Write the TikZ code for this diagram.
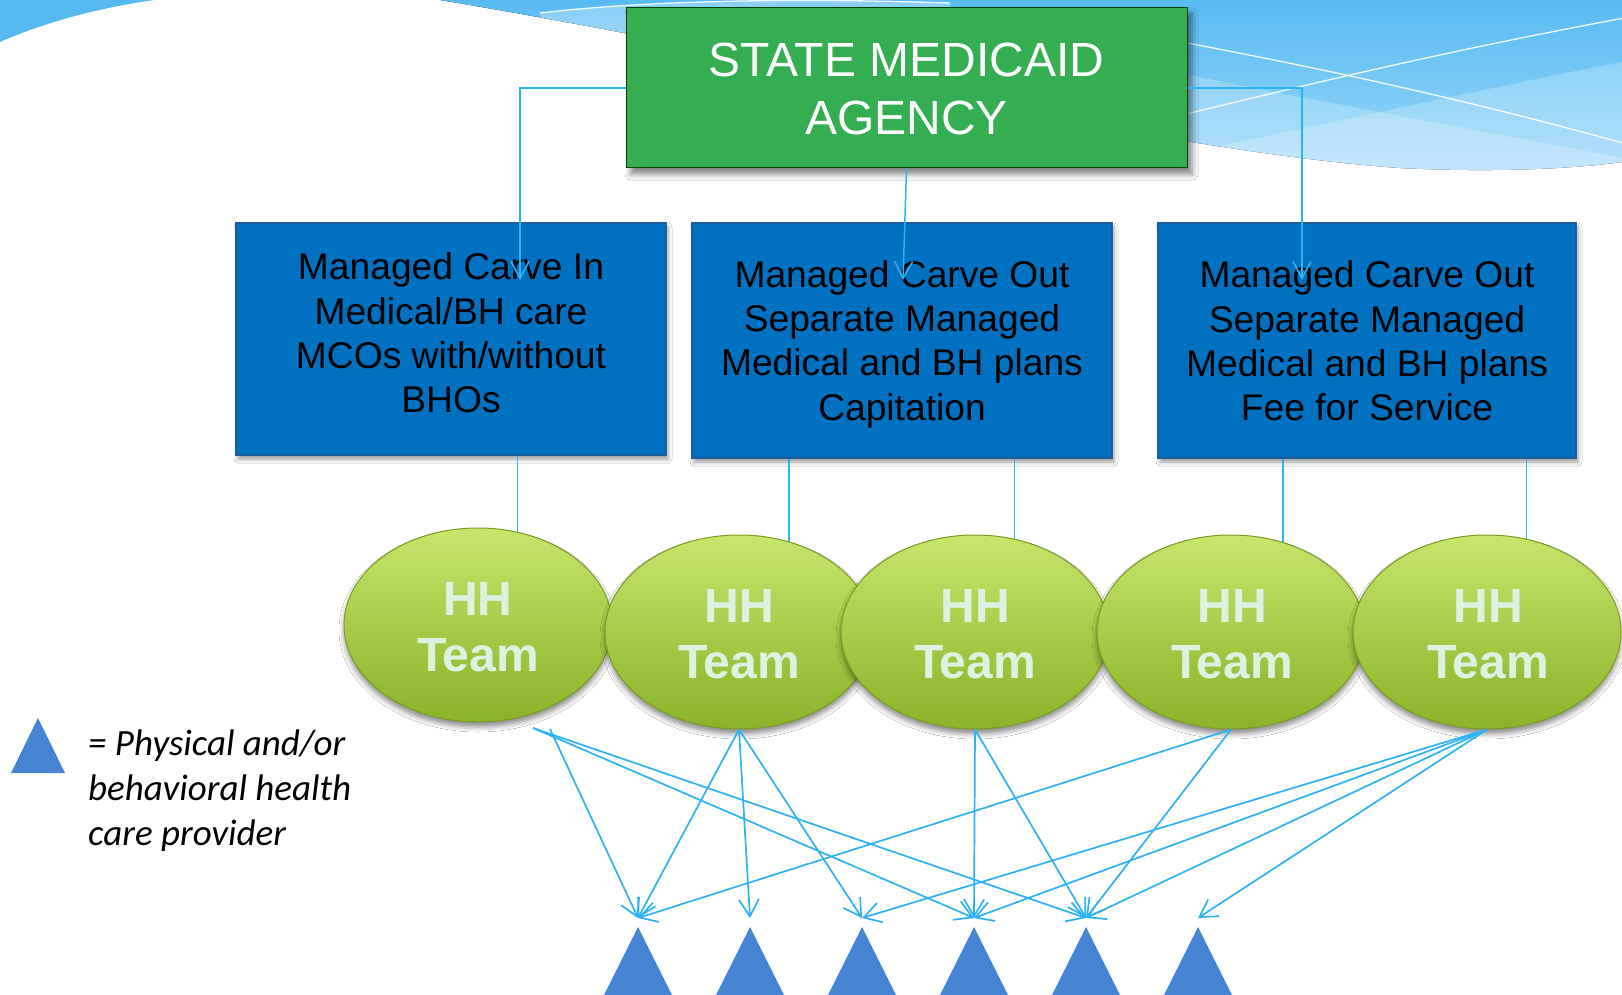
\documentclass[tikz,border=0pt]{standalone}
\usepackage{fontspec}
\setmainfont{Liberation Sans}
\newfontfamily\calib{Carlito}
\usetikzlibrary{arrows.meta,shadows.blur,shapes.geometric}
\definecolor{skyA}{HTML}{56BAF1}
\definecolor{skyC}{HTML}{9ED9F9}
\definecolor{conn}{HTML}{2EB2F3}
\definecolor{mgreen}{HTML}{34AE51}
\definecolor{mblue}{HTML}{0070C0}
\definecolor{mblueD}{HTML}{1A5C9A}
\definecolor{tri}{HTML}{4884D4}
\definecolor{elltop}{HTML}{C6E66C}
\definecolor{ellbot}{HTML}{8AB228}
\definecolor{ellline}{HTML}{7C9C22}
\definecolor{elltext}{HTML}{DDF3E2}
\begin{document}
\begin{tikzpicture}[x=1pt,y=-1pt,
  agency/.style={draw=green!25!black, line width=1pt, fill=mgreen, minimum width=561pt, minimum height=160pt, inner sep=0pt,
     blur shadow={shadow xshift=5pt, shadow yshift=-6pt, shadow blur radius=6pt, shadow opacity=50}},
  plan/.style={draw=mblueD, line width=1.5pt, fill=mblue, inner sep=0pt,
     blur shadow={shadow xshift=2pt, shadow yshift=-4pt, shadow blur radius=4pt, shadow opacity=40}},
  plantext/.style={align=center, inner sep=0pt, text=black, font=\fontsize{37.2pt}{44.3pt}\selectfont},
  hh/.style={ellipse, minimum width=268pt, minimum height=194pt, inner sep=0pt, top color=elltop, bottom color=ellbot,
     draw=ellline, line width=1pt, blur shadow={shadow xshift=0pt, shadow yshift=-5pt, shadow blur radius=5pt, shadow opacity=45}},
  hhtext/.style={align=center, inner sep=0pt, text=elltext, font=\fontsize{48pt}{56.5pt}\selectfont\bfseries},
  gline/.style={draw=conn, line width=1.5pt, -{Straight Barb[length=17pt,width=18pt]}},
  link/.style={draw=conn, line width=1.8pt},
  arr/.style={draw=conn, line width=1.7pt, -{Straight Barb[length=17pt,width=20pt]}},
  wline/.style={draw=white, line width=1.3pt, opacity=.9}
]
\useasboundingbox (0,0) rectangle (1622,995);
\fill[white] (0,0) rectangle (1622,995);

% background waves
\fill[skyA] (0,-2) -- (0,42) .. controls (50,20) and (110,5) .. (170,-2) -- cycle;
\begin{scope}
  \clip (440,-5) -- (440,0) .. controls (800,60) and (1150,150) .. (1400,168) .. controls (1500,173) and (1580,168) .. (1622,162) -- (1622,-5) -- cycle;
  \fill[top color=skyA, bottom color=skyC] (400,-5) rectangle (1622,175);
  \fill[white, opacity=.22] (1000,35) .. controls (1200,80) and (1450,125) .. (1622,158) -- (1622,200) -- (1000,200) -- cycle;
  \fill[white, opacity=.22] (1150,160) .. controls (1350,120) and (1500,85) .. (1622,62) -- (1622,200) -- (1150,200) -- cycle;
  \fill[white, opacity=.3] (540,13) .. controls (650,0) and (800,-2) .. (950,3) -- (950,200) -- (540,200) -- cycle;
\end{scope}
\draw[wline] (1150,36) .. controls (1300,64) and (1450,95) .. (1630,145);
\draw[wline] (1150,123) .. controls (1300,86) and (1450,50) .. (1630,17);
\draw[wline] (540,13) .. controls (650,0) and (800,-2) .. (950,3);

% plan boxes
\node[plan, minimum width=430pt, minimum height=232pt] (b1) at (451,339) {};
\node[plan, minimum width=420pt, minimum height=235pt] (b2) at (902,340.5) {};
\node[plan, minimum width=418pt, minimum height=235pt] (b3) at (1367,340.5) {};
\node[plantext] (b1t) at (451,333) {Managed Carve In\\Medical/BH care\\MCOs with/without\\BHOs};
\node[plantext] (b2t) at (902,344) {Managed Carve Out\\Separate Managed\\Medical and BH plans\\Capitation};
\node[plantext] (b3t) at (1367,341) {Managed Carve Out\\Separate Managed\\Medical and BH plans\\Fee for Service};

% agency
\coordinate (b1in) at (520,280);
\coordinate (b2in) at (903,280);
\coordinate (b3in) at (1302,280);
\node[agency] (g) at (906.5,88) {};
\draw[gline] (g.west) -| (b1in);
\draw[gline] (g.south) -- (b2in);
\draw[gline] (g.east) -| (b3in);
\node[align=center, inner sep=0pt, text=white, font=\fontsize{48pt}{58pt}\selectfont] (gt) at (906.5,89) {STATE MEDICAID\\AGENCY};

% teams
\node[hh] (e1) at (478,625) {};
\node[hh] (e2) at (739,632) {};
\node[hh] (e3) at (975,632) {};
\node[hh] (e4) at (1231,632) {};
\node[hh] (e5) at (1487,632) {};
\draw[link] (b1.south -| e1.67) -- (e1.67);
\draw[link] (b2.south -| e2.61) -- (e2.61);
\draw[link] (b2.south -| e3.67) -- (e3.67);
\draw[link] (b3.south -| e4.60) -- (e4.60);
\draw[link] (b3.south -| e5.67) -- (e5.67);
\node[hhtext] (e1t) at (478,627) {HH\\Team};
\node[hhtext] (e2t) at (739,634) {HH\\Team};
\node[hhtext] (e3t) at (975,634) {HH\\Team};
\node[hhtext] (e4t) at (1232,634) {HH\\Team};
\node[hhtext] (e5t) at (1488,634) {HH\\Team};

% providers
\coordinate (s1a) at (533,728);
\coordinate (s1b) at (550,729);
\coordinate (p1) at (638,918);
\coordinate (p2) at (750,918);
\coordinate (p3) at (862,918);
\coordinate (p4) at (974,918);
\coordinate (p5) at (1086,918);
\coordinate (p6) at (1198,918);
\foreach \p in {p1,p2,p3,p4,p5,p6}
  \fill[tri] (\p) ++(0,9) -- ++(35,70) -- ++(-70,0) -- cycle;

\draw[arr] (s1a) -- (p4);
\draw[arr] (s1a) -- (p5);
\draw[arr] (s1b) -- (p1);
\draw[arr] (e2.south) -- (p1);
\draw[arr] (e2.south) -- (p2);
\draw[arr] (e2.south) -- (p3);
\draw[arr] (e3.south) -- (p4);
\draw[arr] (e3.south) -- (p5);
\draw[arr] (e4.south) -- (p1);
\draw[arr] (e4.south) -- (p5);
\draw[arr] (e5.south) -- (p3);
\draw[arr] (e5.south) -- (p4);
\draw[arr] (e5.south) -- (p5);
\draw[arr] (e5.south) -- (p6);

% legend
\fill[tri] (11,773) -- (38,718) -- (65,773) -- cycle;
\node[anchor=west, align=left, inner sep=0pt, font=\calib\itshape\fontsize{37pt}{45pt}\selectfont] (leg) at (88,791) {= Physical and/or\\behavioral health\\care provider};
\end{tikzpicture}
\end{document}
